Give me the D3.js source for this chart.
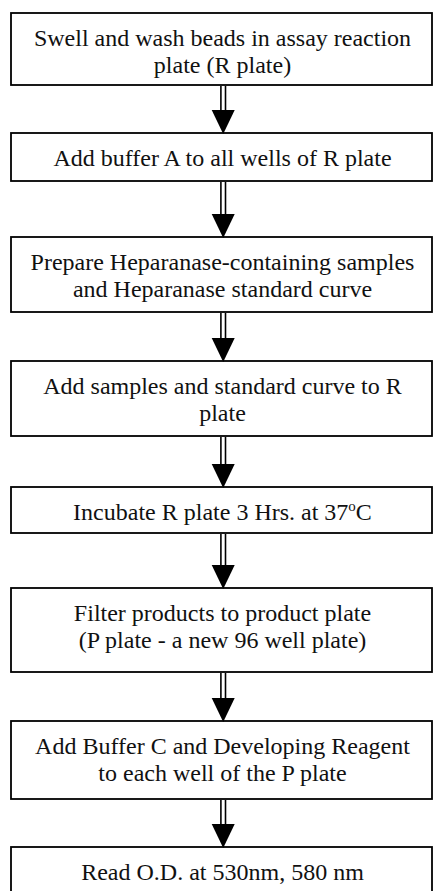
<!DOCTYPE html>
<html>
<head>
<meta charset="utf-8">
<script src="https://cdn.jsdelivr.net/npm/d3@7"></script>
<style>
  html, body { margin: 0; padding: 0; background: #fff; }
  svg { display: block; }
</style>
</head>
<body>
<script>
// ---- Data: flowchart steps (text lines; "^o" marks a superscript o) ----
const stepLines = [
  ["Swell and wash beads in assay reaction", "plate (R plate)"],
  ["Add buffer A to all wells of R plate"],
  ["Prepare Heparanase-containing samples", "and Heparanase standard curve"],
  ["Add samples and standard curve to R", "plate"],
  ["Incubate R plate 3 Hrs. at 37^oC"],
  ["Filter products to product plate", "(P plate - a new 96 well plate)"],
  ["Add Buffer C and Developing Reagent", "to each well of the P plate"],
  ["Read O.D. at 530nm, 580 nm"]
];

// ---- Layout (kept separate from data) ----
const W = 433, H = 891;
const boxTop    = [13, 133, 237, 361, 487, 588, 721, 847];
const boxBottom = [85, 181, 312, 436, 533, 672, 799, 894];
const boxLeft = 11, boxRight = 432;
const arrowX = 223.2;
const textX = 222.5;

const svg = d3.select("body").append("svg")
  .attr("width", W).attr("height", H);

const y = d3.scaleIdentity();

const steps = stepLines.map((lines, i) => ({ lines, top: boxTop[i], bottom: boxBottom[i] }));

// Boxes
svg.selectAll("rect.box").data(steps).join("rect")
  .attr("class", "box")
  .attr("x", boxLeft)
  .attr("y", d => y(d.top))
  .attr("width", boxRight - boxLeft)
  .attr("height", d => y(d.bottom) - y(d.top))
  .attr("fill", "#fff")
  .attr("stroke", "#000")
  .attr("stroke-width", 1.8);

// Text
const g = svg.selectAll("g.step").data(steps).join("g").attr("class", "step");
g.each(function(d) {
  const sel = d3.select(this);
  d.lines.forEach((line, j) => {
    const t = sel.append("text")
      .attr("x", textX)
      .attr("y", y(d.top) + 33 + j * 27)
      .attr("text-anchor", "middle")
      .attr("font-family", "'Liberation Serif', 'Times New Roman', serif")
      .attr("font-size", 24)
      .attr("fill", "#111");
    const parts = line.split("^");
    parts.forEach((p, k) => {
      if (k === 0) { t.append("tspan").text(p); }
      else {
        t.append("tspan").attr("dy", -9).attr("font-size", 15).text(p.charAt(0));
        t.append("tspan").attr("dy", 9).text(p.slice(1));
      }
    });
  });
});

// Arrows between consecutive boxes
const arrows = d3.pairs(steps).map(([a, b]) => ({ from: a.bottom, to: b.top }));
const triH = 24, triW = 23;
const ag = svg.selectAll("g.arrow").data(arrows).join("g").attr("class", "arrow");
ag.append("line")
  .attr("x1", arrowX - 2.3).attr("x2", arrowX - 2.3)
  .attr("y1", d => y(d.from) + 1).attr("y2", d => y(d.to) - triH + 1)
  .attr("stroke", "#000").attr("stroke-width", 1.6);
ag.append("line")
  .attr("x1", arrowX + 2.3).attr("x2", arrowX + 2.3)
  .attr("y1", d => y(d.from) + 1).attr("y2", d => y(d.to) - triH + 1)
  .attr("stroke", "#000").attr("stroke-width", 1.6);
ag.append("path")
  .attr("d", d => {
    const tip = y(d.to) + 1;
    return `M${arrowX - triW / 2},${tip - triH} L${arrowX + triW / 2},${tip - triH} L${arrowX},${tip} Z`;
  })
  .attr("fill", "#000");
</script>
</body>
</html>
